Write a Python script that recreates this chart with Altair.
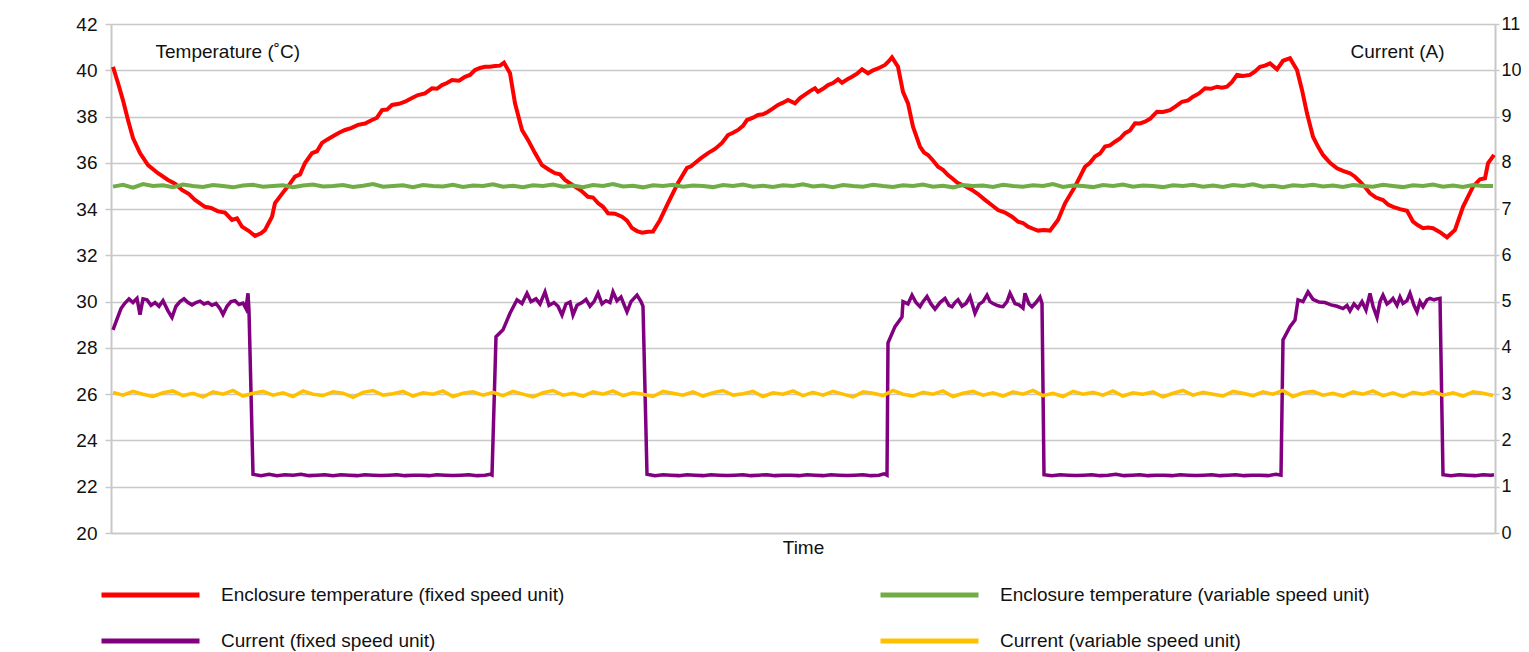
import altair as alt
import pandas as pd

SERIES = [
    "Enclosure temperature (fixed speed unit)",
    "Enclosure temperature (variable speed unit)",
    "Current (fixed speed unit)",
    "Current (variable speed unit)",
]
COLORS = ["#ff0000", "#70ad47", "#800080", "#ffc000"]

TEMP_TICKS = list(range(20, 43, 2))
CURRENT_TICKS = list(range(0, 12))

# Enclosure temperature, fixed speed unit: (time, degC)
red_points = [
    (0, 40.15), (5, 39.45), (10, 38.7), (15, 37.85), (20, 37.07), (27, 36.42), (35, 35.9),
    (45, 35.55), (55, 35.26), (62, 35.1), (69, 34.83), (76, 34.65), (82, 34.4), (92, 34.1),
    (98, 34.05), (105, 33.9), (112, 33.85), (119, 33.53), (124, 33.6), (129, 33.24), (136, 33.05),
    (142, 32.84), (148, 32.95), (152, 33.1), (159, 33.67), (162, 34.26), (172, 34.83), (177, 35.1),
    (182, 35.4), (187, 35.5), (192, 35.99), (199, 36.42), (204, 36.5), (209, 36.86), (214, 37.0),
    (219, 37.13), (226, 37.3), (232, 37.42), (238, 37.5), (245, 37.64), (252, 37.7), (259, 37.85),
    (264, 37.95), (269, 38.28), (274, 38.3), (279, 38.5), (286, 38.55), (292, 38.64), (299, 38.8),
    (305, 38.93), (312, 39.0), (319, 39.22), (324, 39.2), (329, 39.36), (334, 39.45), (339, 39.58),
    (346, 39.55), (352, 39.72), (357, 39.8), (362, 40.01), (367, 40.1), (372, 40.15), (377, 40.15),
    (382, 40.18), (387, 40.2), (391, 40.33), (397, 39.87), (402, 38.57), (409, 37.42), (415, 36.99),
    (422, 36.42), (429, 35.9), (436, 35.7), (442, 35.55), (447, 35.5), (452, 35.26), (462, 34.97),
    (468, 34.8), (475, 34.53), (480, 34.5), (485, 34.26), (490, 34.1), (495, 33.82), (502, 33.8),
    (509, 33.67), (514, 33.5), (519, 33.18), (524, 33.05), (529, 32.98), (535, 33.02), (540, 33.03),
    (547, 33.53), (555, 34.26), (565, 35.13), (574, 35.78), (578, 35.85), (582, 35.99), (588, 36.2),
    (595, 36.42), (602, 36.6), (609, 36.86), (615, 37.2), (620, 37.3), (625, 37.42), (630, 37.6),
    (634, 37.85), (640, 37.95), (645, 38.07), (650, 38.1), (655, 38.21), (660, 38.35), (665, 38.5),
    (670, 38.6), (675, 38.72), (682, 38.57), (687, 38.8), (692, 38.95), (697, 39.1), (702, 39.22),
    (705, 39.07), (710, 39.2), (715, 39.36), (720, 39.45), (725, 39.61), (729, 39.46), (734, 39.6),
    (739, 39.72), (744, 39.85), (749, 40.04), (755, 39.87), (760, 40.0), (765, 40.08), (772, 40.23),
    (776, 40.4), (779, 40.56), (785, 40.15), (790, 39.07), (795, 38.57), (800, 37.56), (807, 36.7),
    (811, 36.45), (815, 36.34), (820, 36.1), (825, 35.83), (830, 35.7), (835, 35.47), (840, 35.3),
    (845, 35.12), (852, 35.0), (859, 34.83), (865, 34.65), (872, 34.4), (878, 34.2), (885, 33.96),
    (892, 33.85), (899, 33.67), (905, 33.46), (910, 33.4), (915, 33.24), (920, 33.15), (925, 33.07),
    (931, 33.1), (937, 33.07), (945, 33.53), (952, 34.25), (962, 34.97), (972, 35.83), (977, 36.0),
    (982, 36.27), (987, 36.4), (992, 36.7), (997, 36.75), (1002, 36.91), (1007, 37.05), (1012, 37.28),
    (1017, 37.4), (1022, 37.71), (1027, 37.7), (1032, 37.78), (1037, 37.9), (1044, 38.21),
    (1050, 38.2), (1057, 38.28), (1063, 38.45), (1069, 38.64), (1075, 38.7), (1080, 38.86),
    (1086, 39.0), (1092, 39.22), (1098, 39.2), (1104, 39.29), (1109, 39.25), (1114, 39.29),
    (1119, 39.5), (1124, 39.8), (1130, 39.75), (1137, 39.8), (1142, 39.95), (1147, 40.15),
    (1152, 40.2), (1157, 40.3), (1164, 40.04), (1170, 40.41), (1177, 40.52), (1184, 40.01),
    (1189, 39.15), (1194, 38.14), (1200, 37.13), (1205, 36.7), (1210, 36.34), (1217, 36.0),
    (1224, 35.76), (1230, 35.65), (1237, 35.55), (1242, 35.4), (1247, 35.19), (1252, 34.95),
    (1257, 34.68), (1263, 34.5), (1270, 34.39), (1275, 34.2), (1280, 34.1), (1287, 34.0),
    (1294, 33.93), (1300, 33.46), (1305, 33.3), (1310, 33.17), (1315, 33.2), (1320, 33.17),
    (1327, 33.0), (1334, 32.78), (1342, 33.1), (1350, 34.1), (1360, 34.97), (1367, 35.29),
    (1372, 35.33), (1375, 35.98), (1381, 36.34),
]

# Regular sampling times for the two variable speed series
grid_times = list(range(0, 1381, 10))

# Enclosure temperature, variable speed unit (degC)
green_values = [
    34.97, 35.05, 34.93, 35.08, 35.0, 35.03, 34.95, 35.06, 35.0, 34.96,
    35.04, 35.0, 34.94, 35.02, 35.05, 34.97, 35.0, 35.03, 34.95, 35.02,
    35.06, 34.98, 35.0, 35.04, 34.96, 35.01, 35.08, 34.97, 35.0, 35.03,
    34.95, 35.04, 35.0, 34.98, 35.05, 34.96, 35.02, 35.0, 35.07, 34.97,
    35.01, 34.95, 35.03, 35.0, 35.06, 34.97, 35.02, 34.95, 35.04, 35.0,
    35.08, 34.98, 35.01, 34.94, 35.03, 35.0, 35.05, 34.97, 35.02, 35.0,
    34.95, 35.04, 35.0, 35.06, 34.97, 35.01, 34.96, 35.03, 35.0, 35.07,
    34.98, 35.02, 34.95, 35.04, 35.0, 34.97, 35.05, 35.0, 34.96, 35.03,
    35.0, 35.06, 34.97, 35.01, 34.94, 35.04, 35.0, 35.02, 34.96, 35.05,
    35.0, 34.97, 35.03, 35.0, 35.08, 34.96, 35.02, 35.0, 34.95, 35.04,
    35.0, 35.06, 34.97, 35.02, 35.0, 34.95, 35.03, 35.0, 35.05, 34.97,
    35.02, 34.96, 35.04, 35.0, 35.07, 34.97, 35.01, 34.95, 35.03, 35.0,
    35.05, 34.98, 35.02, 34.96, 35.04, 35.0, 34.97, 35.05, 35.0, 34.95,
    35.03, 35.0, 35.06, 34.97, 35.02, 34.96, 35.04, 35.0, 35.0,
]

# Current, fixed speed unit: (time, A)
purple_points = [
    (0, 4.39), (4, 4.62), (8, 4.85), (12, 4.97), (16, 5.06), (20, 4.98), (24, 5.07), (27, 4.72),
    (30, 5.06), (34, 5.04), (38, 4.92), (42, 4.98), (46, 4.9), (50, 5.02), (55, 4.8), (59, 4.66),
    (63, 4.9), (67, 5.0), (71, 5.06), (75, 4.98), (79, 4.93), (83, 4.98), (87, 5.01), (91, 4.95),
    (95, 4.98), (99, 4.92), (103, 4.96), (107, 4.85), (110, 4.72), (114, 4.9), (118, 5.0),
    (122, 5.02), (126, 4.94), (130, 4.97), (133, 4.85), (135, 5.18), (136, 4.8), (140, 1.27),
    (148, 1.24), (156, 1.27), (164, 1.24), (172, 1.26), (180, 1.25), (188, 1.27), (196, 1.24),
    (204, 1.25), (212, 1.26), (220, 1.24), (228, 1.26), (236, 1.25), (244, 1.24), (252, 1.26),
    (260, 1.25), (268, 1.24), (276, 1.25), (284, 1.26), (292, 1.24), (300, 1.25), (308, 1.25),
    (316, 1.24), (324, 1.26), (332, 1.25), (340, 1.24), (348, 1.25), (356, 1.26), (364, 1.24),
    (372, 1.25), (377, 1.27), (379, 1.25),
    (383, 4.24), (390, 4.39), (397, 4.75), (404, 5.04), (409, 4.96), (414, 5.18), (418, 5.0),
    (423, 5.06), (427, 4.95), (432, 5.21), (436, 4.92), (441, 4.98), (445, 4.9), (449, 4.71),
    (453, 4.95), (457, 4.99), (460, 4.71), (464, 4.92), (469, 4.98), (473, 5.05), (477, 4.9),
    (481, 5.0), (485, 5.18), (489, 4.95), (493, 5.02), (497, 4.98), (500, 5.21), (504, 5.02),
    (508, 5.1), (514, 4.78), (518, 5.0), (524, 5.14), (528, 5.0), (530, 4.9), (534, 1.27),
    (542, 1.24), (550, 1.26), (558, 1.25), (566, 1.24), (574, 1.26), (582, 1.25), (590, 1.24),
    (598, 1.26), (606, 1.25), (614, 1.24), (622, 1.25), (630, 1.26), (638, 1.24), (646, 1.25),
    (654, 1.26), (662, 1.24), (670, 1.25), (678, 1.25), (686, 1.24), (694, 1.26), (702, 1.25),
    (710, 1.24), (718, 1.26), (726, 1.25), (734, 1.24), (742, 1.25), (750, 1.26), (758, 1.24),
    (766, 1.25), (771, 1.28), (774, 1.25),
    (775, 4.11), (782, 4.46), (789, 4.67), (790, 5.0), (795, 4.95), (799, 5.14), (803, 4.98),
    (807, 4.89), (810, 5.0), (814, 5.11), (818, 4.95), (822, 4.84), (827, 4.98), (832, 5.07),
    (836, 4.92), (839, 4.89), (842, 4.98), (845, 5.04), (849, 4.9), (853, 4.96), (857, 5.11),
    (862, 4.75), (866, 4.94), (870, 5.0), (874, 5.14), (877, 5.0), (880, 4.96), (884, 4.92),
    (887, 4.9), (890, 4.89), (894, 5.0), (897, 5.18), (902, 4.96), (906, 4.93), (910, 4.86),
    (912, 5.18), (916, 4.95), (919, 4.89), (923, 4.98), (927, 5.1), (929, 4.96), (931, 1.26),
    (939, 1.24), (947, 1.26), (955, 1.25), (963, 1.24), (971, 1.25), (979, 1.26), (987, 1.24),
    (995, 1.25), (1003, 1.27), (1011, 1.24), (1019, 1.25), (1027, 1.26), (1035, 1.24),
    (1043, 1.25), (1051, 1.25), (1059, 1.24), (1067, 1.26), (1075, 1.25), (1083, 1.24),
    (1091, 1.25), (1099, 1.26), (1107, 1.24), (1115, 1.25), (1123, 1.26), (1131, 1.24),
    (1139, 1.25), (1147, 1.25), (1155, 1.24), (1163, 1.27), (1168, 1.25),
    (1170, 4.17), (1177, 4.46), (1182, 4.6), (1185, 5.04), (1190, 5.0), (1195, 5.21),
    (1200, 5.05), (1206, 4.99), (1212, 4.98), (1218, 4.93), (1224, 4.9), (1230, 4.85),
    (1234, 4.92), (1237, 4.8), (1241, 4.95), (1245, 4.86), (1249, 5.0), (1253, 4.82),
    (1257, 5.18), (1260, 4.9), (1264, 4.66), (1267, 5.0), (1270, 5.14), (1274, 4.95),
    (1277, 5.0), (1280, 5.07), (1284, 4.92), (1287, 5.1), (1290, 4.96), (1294, 5.02),
    (1297, 5.18), (1301, 4.92), (1304, 4.78), (1307, 5.0), (1310, 4.89), (1314, 5.04),
    (1317, 5.07), (1321, 5.04), (1324, 5.06), (1327, 5.07), (1330, 1.26),
    (1338, 1.24), (1346, 1.26), (1354, 1.25), (1362, 1.24), (1370, 1.26), (1378, 1.25), (1381, 1.26),
]

# Current, variable speed unit (A)
yellow_values = [
    3.04, 2.98, 3.06, 3.0, 2.95, 3.03, 3.07, 2.97, 3.02, 2.94,
    3.05, 3.0, 3.08, 2.96, 3.02, 3.06, 2.98, 3.03, 2.95, 3.07,
    3.0, 2.97, 3.05, 3.02, 2.93, 3.04, 3.08, 2.98, 3.01, 3.06,
    2.96, 3.03, 3.0, 3.07, 2.95, 3.02, 3.05, 2.98, 3.04, 2.97,
    3.06, 3.0, 2.94, 3.03, 3.08, 2.98, 3.02, 2.96, 3.05, 3.0,
    3.07, 2.97, 3.03, 3.0, 2.95, 3.06, 3.02, 2.98, 3.05, 2.96,
    3.03, 3.08, 2.98, 3.01, 3.06, 2.95, 3.03, 3.0, 3.07, 2.97,
    3.04, 2.98, 3.06, 3.0, 2.94, 3.05, 3.02, 2.97, 3.08, 3.0,
    2.96, 3.04, 3.0, 3.07, 2.95, 3.02, 3.06, 2.98, 3.03, 2.96,
    3.05, 3.0, 3.08, 2.97, 3.02, 2.95, 3.06, 3.0, 3.04, 2.98,
    3.07, 2.96, 3.03, 3.0, 3.05, 2.94, 3.02, 3.08, 2.98, 3.04,
    3.0, 2.96, 3.06, 3.02, 2.97, 3.05, 3.0, 3.08, 2.95, 3.03,
    3.06, 2.98, 3.02, 2.96, 3.05, 3.0, 3.07, 2.97, 3.03, 2.95,
    3.04, 3.0, 3.06, 2.98, 3.03, 2.96, 3.05, 3.02, 2.97,
]

FONT = "Liberation Sans"
GRID = "#c8c8c8"

red_df = pd.DataFrame(red_points, columns=["t", "v"])
red_df["series"] = SERIES[0]
green_df = pd.DataFrame({"t": grid_times, "v": green_values, "series": SERIES[1]})
purple_df = pd.DataFrame(purple_points, columns=["t", "v"])
purple_df["series"] = SERIES[2]
yellow_df = pd.DataFrame({"t": grid_times, "v": yellow_values, "series": SERIES[3]})

x_enc = alt.X(
    "t:Q",
    scale=alt.Scale(domain=[-2, 1382], nice=False, zero=False),
    axis=alt.Axis(
        title="Time", labels=False, ticks=False, grid=False, domain=True,
        domainColor=GRID, domainWidth=1.5, titlePadding=5, titleFontSize=19,
        titleFontWeight="normal", titleFont=FONT, titleColor="#111",
    ),
)

y_temp = alt.Y(
    "v:Q",
    scale=alt.Scale(domain=[20, 42], nice=False, zero=False),
    axis=alt.Axis(
        orient="left", values=TEMP_TICKS, grid=True, gridColor=GRID, gridWidth=1.5,
        domainColor=GRID, domainWidth=2, tickColor=GRID, tickWidth=1.5, tickSize=6,
        labelPadding=8, labelFontSize=19, labelFont=FONT, labelColor="#111",
        title="Temperature (˚C)", titleAngle=0, titleAlign="left", titleBaseline="alphabetic",
        titleX=44, titleY=33, titleFontSize=19, titleFontWeight="normal", titleFont=FONT,
        titleColor="#111",
    ),
)

y_cur = alt.Y(
    "v:Q",
    scale=alt.Scale(domain=[0, 11], nice=False, zero=False),
    axis=alt.Axis(
        orient="right", values=CURRENT_TICKS, grid=False,
        domainColor=GRID, domainWidth=2, tickColor=GRID, tickWidth=1.5, tickSize=4,
        labelPadding=2, labelFontSize=18, labelFont=FONT, labelColor="#111",
        title="Current (A)", titleAngle=0, titleAlign="right", titleBaseline="alphabetic",
        titleX=-51, titleY=33, titleFontSize=19, titleFontWeight="normal", titleFont=FONT,
        titleColor="#111",
    ),
)

color_enc = alt.Color(
    "series:N",
    scale=alt.Scale(domain=SERIES, range=COLORS),
    legend=alt.Legend(
        title=None, orient="none", legendX=-12, legendY=559, columns=2,
        direction="horizontal", clipHeight=24,
        symbolType="stroke", symbolSize=9604, symbolStrokeWidth=5,
        labelFontSize=19, labelFont=FONT, labelColor="#111", labelOffset=19,
        labelLimit=700, columnPadding=313, rowPadding=22, padding=0,
    ),
)

red = alt.Chart(red_df).mark_line(strokeWidth=4).encode(x=x_enc, y=y_temp, color=color_enc)
green = alt.Chart(green_df).mark_line(strokeWidth=4).encode(x=x_enc, y=y_temp, color=color_enc)
purple = alt.Chart(purple_df).mark_line(strokeWidth=3.5).encode(x=x_enc, y=y_cur, color=color_enc)
yellow = alt.Chart(yellow_df).mark_line(strokeWidth=3.5).encode(x=x_enc, y=y_cur, color=color_enc)

temp_layer = alt.layer(red, green)
cur_layer = alt.layer(purple, yellow)

chart = (
    alt.layer(temp_layer, cur_layer)
    .resolve_scale(y="independent")
    .properties(
        width=1384,
        height=509,
        autosize=alt.AutoSizeParams(type="none"),
        padding={"left": 103, "top": 16, "right": 26, "bottom": 127},
        background="white",
    )
    .configure_view(strokeWidth=0)
)

chart.save("out.html", embed_options={"renderer": "svg", "actions": False})
